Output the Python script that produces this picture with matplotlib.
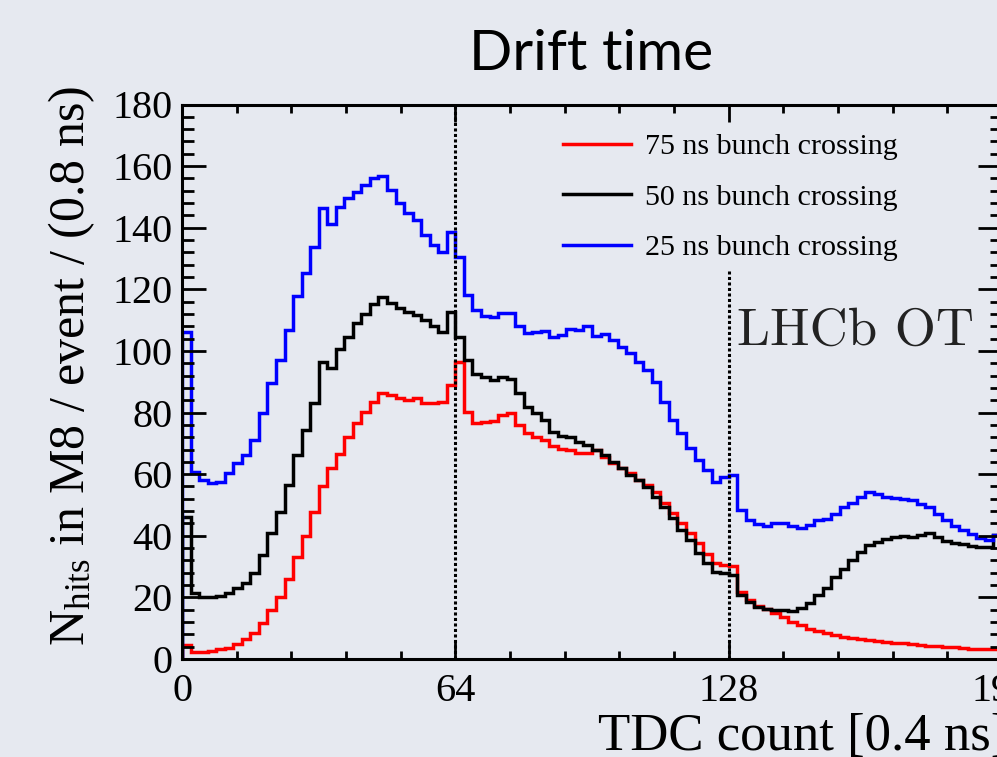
import numpy as np
import matplotlib
matplotlib.use("Agg")
import matplotlib.pyplot as plt
from matplotlib.lines import Line2D
from matplotlib.ticker import MultipleLocator, FixedLocator

plt.rcParams['mathtext.fontset'] = 'custom'
plt.rcParams['mathtext.rm'] = 'Liberation Serif'
plt.rcParams['mathtext.it'] = 'Liberation Serif:italic'

# ---- data: TDC histograms, 96 bins of width 2 from 0 to 192 ----
bin_edges = np.arange(0, 194, 2)

hits_75ns = [4.5, 2.4, 2.4, 2.6, 3.1, 3.7, 4.8, 6.4, 8.5, 11.6,
             15.9, 20.2, 26.0, 33.2, 40.0, 47.6, 56.2, 61.9, 66.6, 72.2,
             76.5, 80.3, 83.5, 86.3, 85.7, 84.6, 84.1, 84.6, 83.2, 83.2,
             83.5, 89.0, 96.5, 80.3, 76.5, 77.0, 77.2, 79.2, 79.8, 76.0,
             73.3, 72.2, 71.1, 69.2, 68.1, 67.9, 66.8, 66.8, 67.9, 65.7,
             63.5, 61.9, 60.3, 58.1, 56.5, 54.3, 50.5, 47.3, 44.0, 40.8,
             37.6, 34.1, 31.1, 30.6, 30.3, 21.9, 19.1, 17.2, 16.1, 14.8,
             13.5, 12.1, 11.0, 9.9, 9.2, 8.5, 7.8, 7.2, 6.9, 6.5,
             6.1, 5.8, 5.6, 5.3, 5.1, 4.8, 4.5, 4.3, 4.2, 4.0,
             3.8, 3.5, 3.3, 3.2, 3.1, 3.1]

hits_50ns = [46.2, 21.3, 20.0, 20.0, 20.5, 21.5, 23.0, 24.6, 28.0, 33.8,
             40.8, 47.8, 56.5, 66.2, 74.4, 83.0, 96.3, 94.4, 100.6, 104.6,
             109.2, 112.0, 115.3, 117.6, 115.7, 113.9, 112.8, 111.7, 110.1, 108.2,
             106.3, 112.8, 104.6, 97.1, 92.5, 91.5, 90.6, 91.7, 90.8, 86.3,
             81.9, 80.0, 77.6, 73.8, 72.4, 72.0, 70.6, 69.5, 67.9, 66.2,
             64.1, 61.9, 59.7, 58.1, 55.9, 52.7, 49.4, 45.7, 41.9, 38.6,
             34.3, 31.1, 28.4, 27.8, 27.3, 20.8, 18.6, 17.0, 16.1, 15.9,
             15.9, 15.7, 16.5, 18.3, 20.8, 22.9, 26.7, 29.1, 32.1, 34.8,
             37.0, 38.1, 38.8, 39.7, 39.9, 39.5, 40.2, 40.8, 39.7, 38.4,
             37.7, 37.3, 36.7, 36.4, 36.4, 40.2]

hits_25ns = [106.3, 60.8, 58.1, 57.0, 57.5, 60.3, 63.5, 66.2, 71.1, 79.8,
             89.7, 96.9, 106.8, 117.9, 125.2, 133.7, 146.3, 141.2, 146.6, 149.6,
             151.7, 153.9, 156.1, 156.8, 152.3, 148.1, 144.9, 142.5, 137.7, 134.4,
             132.2, 138.7, 130.4, 118.2, 113.3, 111.4, 111.0, 112.4, 112.4, 108.1,
             105.7, 106.2, 106.5, 104.4, 105.2, 107.0, 106.8, 108.1, 104.9, 105.4,
             103.6, 101.4, 99.3, 96.5, 93.8, 90.0, 83.5, 77.6, 73.3, 68.4,
             64.6, 61.4, 57.6, 59.2, 59.7, 48.4, 45.1, 43.8, 43.2, 44.0,
             44.3, 43.2, 42.4, 43.5, 45.1, 45.6, 47.2, 49.4, 50.7, 52.6,
             54.2, 53.7, 52.6, 52.4, 51.9, 51.5, 50.4, 49.4, 47.2, 45.1,
             43.2, 41.9, 40.6, 39.2, 38.6, 40.2]

series_labels = ["75 ns bunch crossing", "50 ns bunch crossing", "25 ns bunch crossing"]
series_colors = ["#ff0000", "#000000", "#0000ff"]
x_major_ticks = [0, 64, 128, 192]
x_tick_labels = ["0", "64", "128", "192"]
marker_lines = [64, 128]

BG = "#e6e9f0"
SERIF = "Liberation Serif"

fig = plt.figure(figsize=(9.97, 7.57), dpi=100, facecolor=BG)
W, H = 997.0, 757.0
# axes: x 0 -> px 182, 192 -> px 1002 ; y 0 -> px 659, 180 -> px 104.5
ax = fig.add_axes([182 / W, 1 - 659 / H, 820 / W, (659 - 104.5) / H])
ax.set_facecolor("none")

for vals, col in zip([hits_75ns, hits_50ns, hits_25ns], series_colors):
    ax.stairs(vals, bin_edges, baseline=0, fill=False, color=col, linewidth=2.5)

# dotted markers
ax.plot([marker_lines[0]] * 2, [0, 180], color="black", linestyle=(0, (1, 0.8)), linewidth=2.2)
ax.plot([marker_lines[1]] * 2, [0, 126], color="black", linestyle=(0, (1, 0.8)), linewidth=2.2)

ax.set_xlim(0, 192)
ax.set_ylim(0, 180)

ax.xaxis.set_major_locator(FixedLocator(x_major_ticks))
ax.set_xticklabels(x_tick_labels)
ax.xaxis.set_minor_locator(MultipleLocator(12.8))
ax.yaxis.set_major_locator(MultipleLocator(20))
ax.yaxis.set_minor_locator(MultipleLocator(4))

ax.tick_params(axis="both", which="both", direction="in", top=True, right=True, colors="black")
ax.tick_params(axis="x", which="major", length=12.5, width=2.0, pad=10, labelsize=29)
ax.tick_params(axis="x", which="minor", length=5.5, width=2.0)
ax.tick_params(axis="y", which="major", length=17, width=2.0, pad=7, labelsize=29)
ax.tick_params(axis="y", which="minor", length=8.5, width=2.0)
for lab in ax.get_xticklabels() + ax.get_yticklabels():
    lab.set_fontfamily(SERIF)
for sp in ax.spines.values():
    sp.set_linewidth(2.2)

# legend
handles = [Line2D([], [], color=c, linewidth=2.5) for c in series_colors]
ax.legend(handles, series_labels, loc="upper left",
          bbox_to_anchor=(563 / W, 1 - 133 / H), bbox_transform=fig.transFigure,
          frameon=False, borderaxespad=0, borderpad=0,
          handlelength=2.27, handletextpad=0.47, labelspacing=0.79,
          prop={"family": SERIF, "size": 21.6})

# LHCb OT label
ax.text(130, 102, "LHCb OT", fontfamily="cmr10", fontsize=38, color="#222222",
        ha="left", va="baseline")

# title
fig.text(591 / W, 1 - 70 / H, "Drift time", fontfamily="Lato", fontsize=41,
         ha="center", va="baseline", color="black")

# axis labels
fig.text(72 / W, 1 - 366 / H, r"N$_{\mathrm{hits}}$ in M8 / event / (0.8 ns)",
         rotation=90, ha="center", va="center", fontfamily=SERIF, fontsize=36)
fig.text(598 / W, 1 - 750 / H, "TDC count [0.4 ns]", ha="left", va="baseline",
         fontfamily=SERIF, fontsize=38)

fig.savefig("out.png", dpi=100, facecolor=BG)
